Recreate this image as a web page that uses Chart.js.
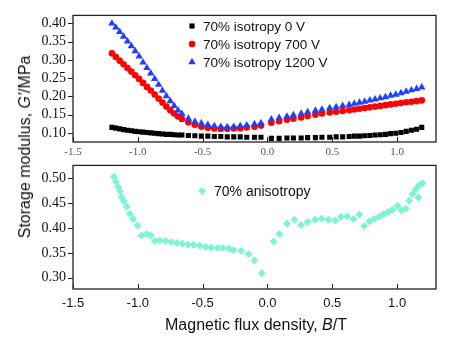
<!DOCTYPE html>
<html>
<head>
<meta charset="utf-8">
<script src="https://cdn.jsdelivr.net/npm/chart.js@4/dist/chart.umd.min.js"></script>
<style>
  html, body { margin: 0; padding: 0; background: #fff; }
  #wrap { position: relative; width: 451px; height: 344px; overflow: hidden; }
  canvas { position: absolute; left: 0; }
  #cTop { top: 0; }
  #cBot { top: 150px; }
  .ttl { position: absolute; font: 16px "Liberation Sans", Arial, sans-serif; color: #111; white-space: nowrap; }
  #ytitle { left: 25px; top: 147px; transform: translate(-50%, -50%) rotate(-90deg); }
  #xtitle { left: 256px; top: 325px; transform: translate(-50%, -50%); }
</style>
</head>
<body>
<div id="wrap">
  <canvas id="cTop" width="451" height="160"></canvas>
  <canvas id="cBot" width="451" height="194"></canvas>
  <div class="ttl" id="ytitle">Storage modulus, <i>G'</i>/MPa</div>
  <div class="ttl" id="xtitle">Magnetic flux density, <i>B</i>/T</div>
</div>
<script>
// ---------- data ----------
const xTicks = [-1.5, -1.0, -0.5, 0.0, 0.5, 1.0];
const yTopTicks = [0.10, 0.15, 0.20, 0.25, 0.30, 0.35, 0.40];
const yBotTicks = [0.30, 0.35, 0.40, 0.45, 0.50];

const isoLabels = ['70% isotropy 0 V', '70% isotropy 700 V', '70% isotropy 1200 V'];
const anisoLabel = '70% anisotropy';

const xIso = [-1.20,-1.17,-1.14,-1.11,-1.08,-1.05,-1.02,-0.99,-0.96,-0.93,-0.90,-0.87,-0.84,-0.81,-0.78,-0.75,-0.72,-0.69,-0.66,
  -0.61,-0.56,-0.51,-0.46,-0.41,-0.36,-0.31,-0.26,-0.21,-0.16,-0.10,-0.05,
  0.03,0.09,0.15,0.20,0.26,0.31,0.37,0.42,0.48,0.53,0.58,0.63,
  0.67,0.71,0.75,0.79,0.83,0.87,0.91,0.95,0.99,1.03,1.07,1.11,1.15,1.19];

const y0V = [0.115,0.113,0.111,0.109,0.107,0.106,0.104,0.103,0.102,0.101,0.100,0.099,0.098,0.097,0.096,0.096,0.095,0.094,0.094,
  0.093,0.092,0.091,0.091,0.090,0.090,0.089,0.089,0.089,0.088,0.088,0.088,
  0.085,0.085,0.086,0.086,0.086,0.087,0.087,0.088,0.088,0.089,0.089,0.090,
  0.091,0.091,0.092,0.093,0.094,0.095,0.096,0.098,0.099,0.101,0.104,0.107,0.110,0.115];

const y700V = [0.318,0.308,0.298,0.288,0.278,0.268,0.258,0.248,0.237,0.226,0.216,0.205,0.194,0.183,0.172,0.162,0.153,0.145,0.138,
  0.129,0.122,0.117,0.114,0.112,0.111,0.111,0.112,0.113,0.115,0.117,0.120,
  0.128,0.132,0.136,0.139,0.142,0.146,0.150,0.153,0.156,0.158,0.160,0.162,
  0.164,0.166,0.168,0.170,0.172,0.174,0.176,0.178,0.180,0.182,0.184,0.185,0.187,0.189];

const y1200V = [0.400,0.389,0.377,0.364,0.351,0.338,0.324,0.310,0.293,0.278,0.263,0.248,0.232,0.216,0.201,0.187,0.174,0.162,0.152,
  0.139,0.131,0.126,0.122,0.119,0.117,0.116,0.117,0.119,0.121,0.124,0.127,
  0.137,0.141,0.145,0.149,0.153,0.157,0.161,0.164,0.168,0.171,0.174,0.177,
  0.180,0.183,0.186,0.189,0.192,0.195,0.198,0.202,0.205,0.209,0.213,0.217,0.221,0.225];

const xAniso = [-1.185,-1.17,-1.151,-1.138,-1.125,-1.108,-1.087,-1.062,-1.036,-1.002,-0.972,-0.933,-0.90,-0.869,-0.83,-0.785,-0.741,-0.698,-0.656,-0.613,-0.569,-0.523,-0.477,-0.433,-0.382,-0.344,-0.298,-0.262,-0.203,-0.146,-0.10,-0.044,
  0.048,0.092,0.151,0.208,0.259,0.31,0.367,0.418,0.469,0.521,0.567,0.613,0.664,0.708,0.746,0.785,0.823,0.862,0.895,0.931,0.964,1.003,1.033,1.067,1.092,1.118,1.143,1.164,1.169,1.195];
const yAniso = [0.503,0.493,0.482,0.474,0.462,0.454,0.443,0.429,0.418,0.405,0.385,0.388,0.385,0.374,0.375,0.374,0.372,0.370,0.3685,0.367,0.3665,0.365,0.362,0.361,0.360,0.360,0.359,0.356,0.354,0.348,0.335,0.309,
  0.373,0.388,0.409,0.4165,0.406,0.412,0.4165,0.4185,0.4165,0.415,0.423,0.424,0.418,0.4275,0.404,0.4135,0.418,0.423,0.428,0.4325,0.437,0.445,0.436,0.439,0.455,0.468,0.4775,0.4615,0.486,0.490];

const pts = (xs, ys) => xs.map((x, i) => ({ x: x, y: ys[i] }));

// ---------- helpers ----------
function drawMarker(ctx, style, r, x, y, color) {
  ctx.save();
  ctx.fillStyle = color;
  ctx.beginPath();
  if (style === 'rect') {
    const s = Math.SQRT1_2 * r;
    ctx.rect(x - s, y - s, 2 * s, 2 * s);
  } else if (style === 'circle') {
    ctx.arc(x, y, r, 0, Math.PI * 2);
  } else if (style === 'triangle') {
    ctx.moveTo(x, y - r);
    ctx.lineTo(x + r * Math.cos(Math.PI / 6), y + r / 2);
    ctx.lineTo(x - r * Math.cos(Math.PI / 6), y + r / 2);
    ctx.closePath();
  } else if (style === 'rectRot') {
    ctx.moveTo(x, y - r); ctx.lineTo(x + r, y); ctx.lineTo(x, y + r); ctx.lineTo(x - r, y); ctx.closePath();
  }
  ctx.fill();
  ctx.restore();
}

const framePlugin = {
  id: 'frame',
  afterDraw(chart, args, opts) {
    const { ctx, chartArea: a, scales } = chart;
    ctx.save();
    ctx.strokeStyle = '#222';
    ctx.lineWidth = 1.3;
    ctx.strokeRect(a.left, a.top, a.right - a.left, a.bottom - a.top);
    ctx.lineWidth = 1;
    ctx.beginPath();
    scales.x.ticks.forEach(t => {
      const px = Math.round(scales.x.getPixelForValue(t.value)) + 0.5;
      ctx.moveTo(px, a.bottom); ctx.lineTo(px, a.bottom - 5);
    });
    scales.y.ticks.forEach(t => {
      const py = Math.round(scales.y.getPixelForValue(t.value)) + 0.5;
      ctx.moveTo(a.left - 5, py); ctx.lineTo(a.left, py);
    });
    ctx.stroke();
    (opts.items || []).forEach(it => {
      const ds = chart.data.datasets[it.ds];
      drawMarker(ctx, ds.pointStyle, ds.pointRadius, it.x, it.y, ds.backgroundColor);
      ctx.fillStyle = '#111';
      ctx.font = opts.font;
      ctx.textBaseline = 'middle';
      ctx.textAlign = 'left';
      ctx.fillText(ds.label, it.x + it.dx, it.y + 1);
    });
    ctx.restore();
  }
};

function setTicks(list) {
  return function (scale) { scale.ticks = list.map(v => ({ value: v })); };
}
const noGrid = { display: false, drawTicks: false, tickLength: 0 };

// ---------- top chart ----------
new Chart(document.getElementById('cTop'), {
  type: 'scatter',
  data: {
    datasets: [
      { label: isoLabels[0], data: pts(xIso, y0V), pointStyle: 'rect', pointRadius: 3.6, backgroundColor: '#000000', borderWidth: 0, order: 3 },
      { label: isoLabels[1], data: pts(xIso, y700V), pointStyle: 'circle', pointRadius: 3.3, backgroundColor: '#FF0000', borderWidth: 0, order: 2 },
      { label: isoLabels[2], data: pts(xIso, y1200V), pointStyle: 'triangle', pointRadius: 4.3, backgroundColor: '#2040FF', borderWidth: 0, order: 1 }
    ]
  },
  options: {
    responsive: false, animation: false, devicePixelRatio: 1,
    layout: { padding: { top: 11, right: 15, left: 0, bottom: 0 } },
    plugins: {
      legend: { display: false }, tooltip: { enabled: false },
      frame: {
        font: '13.5px "Liberation Sans", Arial, sans-serif',
        items: [ { ds: 0, x: 192, y: 26, dx: 11 }, { ds: 1, x: 192, y: 44, dx: 11 }, { ds: 2, x: 192, y: 62, dx: 11 } ]
      }
    },
    scales: {
      x: {
        type: 'linear', min: -1.5, max: 1.3,
        afterBuildTicks: setTicks(xTicks),
        afterFit: s => { s.height = 18; },
        grid: noGrid, border: { display: false },
        ticks: { padding: 4, autoSkip: false, maxRotation: 0, color: '#555', font: { family: '"Liberation Serif", "Times New Roman", serif', size: 11 }, callback: v => Number(v).toFixed(1) }
      },
      y: {
        type: 'linear', min: 0.075, max: 0.422,
        afterBuildTicks: setTicks(yTopTicks),
        afterFit: s => { s.width = 73; },
        grid: noGrid, border: { display: false },
        ticks: { padding: 7, autoSkip: false, color: '#111', font: { family: '"Liberation Serif", "Times New Roman", serif', size: 14 }, callback: v => Number(v).toFixed(2) }
      }
    }
  },
  plugins: [framePlugin]
});

// ---------- bottom chart ----------
new Chart(document.getElementById('cBot'), {
  type: 'scatter',
  data: {
    datasets: [
      { label: anisoLabel, data: pts(xAniso, yAniso), pointStyle: 'rectRot', pointRadius: 4, backgroundColor: '#7DF5D5', borderWidth: 0 }
    ]
  },
  options: {
    responsive: false, animation: false, devicePixelRatio: 1,
    layout: { padding: { top: 10, right: 15, left: 0, bottom: 0 } },
    plugins: {
      legend: { display: false }, tooltip: { enabled: false },
      frame: {
        font: '14px "Liberation Sans", Arial, sans-serif',
        items: [ { ds: 0, x: 202, y: 41, dx: 12 } ]
      }
    },
    scales: {
      x: {
        type: 'linear', min: -1.5, max: 1.3,
        afterBuildTicks: setTicks(xTicks),
        afterFit: s => { s.height = 55; },
        grid: noGrid, border: { display: false },
        ticks: { padding: 7, autoSkip: false, maxRotation: 0, color: '#111', font: { family: '"Liberation Sans", Arial, sans-serif', size: 13 }, callback: v => Number(v).toFixed(1) }
      },
      y: {
        type: 'linear', min: 0.2775, max: 0.526,
        afterBuildTicks: setTicks(yBotTicks),
        afterFit: s => { s.width = 73; },
        grid: noGrid, border: { display: false },
        ticks: { padding: 7, autoSkip: false, color: '#111', font: { family: '"Liberation Serif", "Times New Roman", serif', size: 14 }, callback: v => Number(v).toFixed(2) }
      }
    }
  },
  plugins: [framePlugin]
});
</script>
</body>
</html>
